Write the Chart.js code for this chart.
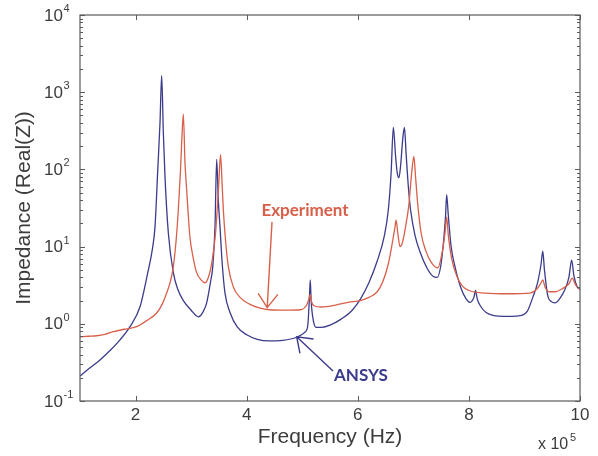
<!DOCTYPE html>
<html>
<head>
<meta charset="utf-8">
<script src="https://cdn.jsdelivr.net/npm/chart.js@4.4.1/dist/chart.umd.min.js"></script>
<style>
  html, body { margin: 0; padding: 0; background: #fff; }
  #wrap { width: 598px; height: 456px; }
</style>
</head>
<body>
<div id="wrap"><canvas id="impedance" width="598" height="456"></canvas></div>
<script>
// frequency in units of 1e5 Hz, impedance Re(Z)
const ansysFreq = [1.00, 1.18, 1.36, 1.54, 1.72, 1.90, 2.08, 2.22, 2.30, 2.35, 2.40, 2.44, 2.47, 2.50, 2.53, 2.59, 2.68, 2.76, 2.86, 3.00,
  3.13, 3.22, 3.28, 3.35, 3.39, 3.43, 3.46, 3.49, 3.52, 3.56, 3.61, 3.70, 3.83, 4.00, 4.19, 4.40, 4.65, 4.90, 5.05, 5.10,
  5.13, 5.145, 5.16, 5.20, 5.25, 5.35, 5.50, 5.70, 5.90, 6.05, 6.20, 6.35, 6.48, 6.55, 6.60, 6.64, 6.68, 6.71, 6.74, 6.77,
  6.81, 6.84, 6.87, 6.91, 6.95, 7.03, 7.13, 7.25, 7.36, 7.43, 7.50, 7.55, 7.58, 7.60, 7.63, 7.68, 7.75, 7.85, 7.95, 8.02,
  8.09, 8.12, 8.15, 8.22, 8.31, 8.45, 8.62, 8.90, 9.05, 9.15, 9.24, 9.30, 9.33, 9.36, 9.42, 9.48, 9.55, 9.65, 9.73, 9.80,
  9.85, 9.89, 9.95, 10.00];
const ansysZ = [0.21, 0.27, 0.34, 0.45, 0.62, 0.92, 1.66, 4.6, 9, 18, 100, 400, 1650, 300, 80, 15, 4.6, 2.8, 2.0, 1.5,
  1.23, 1.45, 1.87, 3.5, 5.5, 18, 135, 40, 18, 6, 2.5, 1.4, 0.91, 0.72, 0.63, 0.60, 0.61, 0.67, 0.78, 0.95,
  2.2, 3.7, 2.0, 1.1, 0.9, 0.9, 0.96, 1.15, 1.5, 2.1, 3.4, 6.5, 14, 30, 90, 350, 150, 90, 78, 110,
  250, 350, 160, 60, 30, 14, 8.2, 5.2, 4.1, 4.0, 6, 13, 25, 47, 25, 10, 5.5, 3.0, 2.1, 1.9,
  2.2, 2.7, 2.1, 1.65, 1.4, 1.28, 1.25, 1.27, 1.45, 2.2, 3.5, 6, 8.7, 5, 2.3, 1.95, 1.87, 2.2, 2.8, 4,
  6.7, 4.2, 3.0, 2.8];

const expFreq = [1.00, 1.15, 1.30, 1.45, 1.60, 1.80, 2.02, 2.20, 2.38, 2.48, 2.56, 2.63, 2.68, 2.73, 2.77, 2.81, 2.83, 2.86, 2.89, 2.91,
  2.95, 2.98, 3.04, 3.10, 3.18, 3.25, 3.32, 3.38, 3.44, 3.47, 3.50, 3.53, 3.56, 3.58, 3.62, 3.67, 3.76, 3.88, 4.05, 4.24,
  4.41, 4.70, 4.97, 5.08, 5.12, 5.145, 5.17, 5.22, 5.34, 5.60, 5.83, 6.05, 6.20, 6.35, 6.45, 6.55, 6.62, 6.67, 6.69, 6.72,
  6.76, 6.80, 6.86, 6.92, 6.97, 7.01, 7.04, 7.08, 7.14, 7.22, 7.32, 7.44, 7.52, 7.57, 7.60, 7.63, 7.69, 7.78, 7.88, 8.00,
  8.30, 8.70, 9.10, 9.22, 9.30, 9.33, 9.37, 9.45, 9.55, 9.70, 9.80, 9.86, 9.92, 10.00];
const expZ = [0.68, 0.69, 0.70, 0.73, 0.79, 0.85, 0.92, 1.1, 1.38, 1.8, 2.5, 3.6, 5.5, 12, 30, 100, 220, 520, 120, 70,
  25, 13, 7, 4.6, 3.7, 3.4, 4.2, 6.7, 15, 30, 70, 155, 60, 30, 12, 5.5, 3.0, 2.2, 1.8, 1.6,
  1.52, 1.5, 1.52, 1.75, 2.1, 2.4, 1.9, 1.7, 1.65, 1.75, 1.9, 2.0, 2.2, 2.6, 3.5, 6, 11, 18, 22, 15,
  10, 11, 18, 35, 90, 147, 80, 35, 15, 9, 6.3, 5.3, 8.5, 15, 24, 14, 7, 4.2, 3.1, 2.7,
  2.5, 2.45, 2.5, 2.8, 3.4, 3.7, 3.0, 2.6, 2.6, 2.9, 3.3, 3.9, 3.2, 2.8];

const xTickValues = [2, 4, 6, 8, 10];
const yDecades = [-1, 0, 1, 2, 3, 4];

const BLUE = '#3b3b8c';
const RED = '#d8604a';
const AXIS = '#5a5a5a';
const LABEL = '#3c3c3c';

function toPoints(xs, ys) {
  return xs.map((x, i) => ({ x: x, y: ys[i] }));
}

// box, inward ticks, log tick labels and the two callouts
const framePlugin = {
  id: 'frame',
  afterDraw(chart) {
    const ctx = chart.ctx;
    const a = chart.chartArea;
    const xs = chart.scales.x;
    const ys = chart.scales.y;
    ctx.save();
    ctx.strokeStyle = AXIS;
    ctx.lineWidth = 1.2;
    ctx.strokeRect(a.left, a.top, a.right - a.left, a.bottom - a.top);

    ctx.lineWidth = 1;
    ctx.beginPath();
    xTickValues.forEach(v => {
      const px = Math.round(xs.getPixelForValue(v)) + 0.5;
      ctx.moveTo(px, a.bottom); ctx.lineTo(px, a.bottom - 5);
      ctx.moveTo(px, a.top); ctx.lineTo(px, a.top + 5);
    });
    yDecades.forEach(d => {
      for (let m = 1; m < 10; m++) {
        if (d === 4 && m > 1) break;
        const py = Math.round(ys.getPixelForValue(m * Math.pow(10, d))) + 0.5;
        const len = m === 1 ? 5 : 3;
        ctx.moveTo(a.left, py); ctx.lineTo(a.left + len, py);
        ctx.moveTo(a.right, py); ctx.lineTo(a.right - len, py);
      }
    });
    ctx.stroke();

    // y labels as 10 with raised exponent
    ctx.fillStyle = LABEL;
    ctx.textBaseline = 'middle';
    yDecades.forEach(d => {
      const py = ys.getPixelForValue(Math.pow(10, d));
      ctx.font = '17px "Liberation Sans", Arial, sans-serif';
      ctx.textAlign = 'right';
      ctx.fillText('10', a.left - 17, py + 1);
      ctx.font = '11px "Liberation Sans", Arial, sans-serif';
      ctx.textAlign = 'left';
      ctx.fillText(d < 0 ? '-' + (-d) : String(d), a.left - 16.5, py - 6);
    });

    // axis multiplier
    ctx.font = '16px "Liberation Sans", Arial, sans-serif';
    ctx.textAlign = 'left';
    ctx.fillText('x 10', a.right - 42, 445);
    ctx.font = '11px "Liberation Sans", Arial, sans-serif';
    ctx.fillText('5', a.right - 10, 438);

    // callouts
    drawCallout(ctx, xs, ys, 'Experiment', RED, 4.37, 1.62, 272, 222, 305, 211, 'center');
    drawCallout(ctx, xs, ys, 'ANSYS', BLUE, 4.90, 0.68, 333, 371, 334, 376, 'left');
    ctx.restore();
  }
};

function drawCallout(ctx, xs, ys, text, color, tipX, tipY, tailPx, tailPy, textX, textY, align) {
  const tx = xs.getPixelForValue(tipX);
  const ty = ys.getPixelForValue(tipY);
  ctx.strokeStyle = color;
  ctx.lineWidth = 1.4;
  ctx.beginPath();
  ctx.moveTo(tailPx, tailPy);
  ctx.lineTo(tx, ty);
  const ang = Math.atan2(ty - tailPy, tx - tailPx);
  const head = 17;
  const spread = 0.62;
  ctx.moveTo(tx - head * Math.cos(ang - spread), ty - head * Math.sin(ang - spread));
  ctx.lineTo(tx, ty);
  ctx.lineTo(tx - head * Math.cos(ang + spread), ty - head * Math.sin(ang + spread));
  ctx.stroke();
  ctx.fillStyle = color;
  ctx.font = 'bold 17px Lato, "Open Sans", sans-serif';
  ctx.textAlign = align;
  ctx.textBaseline = 'middle';
  ctx.fillText(text, textX, textY);
}

new Chart(document.getElementById('impedance'), {
  type: 'line',
  data: {
    datasets: [
      {
        label: 'Experiment',
        data: toPoints(expFreq, expZ),
        borderColor: RED,
        borderWidth: 1.3,
        pointRadius: 0,
        cubicInterpolationMode: 'monotone'
      },
      {
        label: 'ANSYS',
        data: toPoints(ansysFreq, ansysZ),
        borderColor: BLUE,
        borderWidth: 1.3,
        pointRadius: 0,
        cubicInterpolationMode: 'monotone'
      }
    ]
  },
  options: {
    responsive: false,
    animation: false,
    layout: { padding: { top: 15, right: 18, left: 0, bottom: 0 } },
    plugins: {
      legend: { display: false },
      tooltip: { enabled: false }
    },
    scales: {
      x: {
        type: 'linear',
        min: 1,
        max: 10,
        grid: { display: false, drawTicks: false },
        border: { display: false },
        afterBuildTicks: scale => { scale.ticks = xTickValues.map(v => ({ value: v })); },
        afterFit: scale => { scale.height = 55; },
        ticks: {
          color: LABEL,
          padding: 4,
          maxRotation: 0,
          font: { family: '"Liberation Sans", Arial, sans-serif', size: 17 }
        },
        title: {
          display: true,
          text: 'Frequency (Hz)',
          color: LABEL,
          padding: { top: 0, bottom: 6 },
          font: { family: '"Liberation Sans", Arial, sans-serif', size: 21 }
        }
      },
      y: {
        type: 'logarithmic',
        min: 0.1,
        max: 10000,
        grid: { display: false, drawTicks: false },
        border: { display: false },
        ticks: { display: false },
        afterFit: scale => { scale.width = 80; },
        title: {
          display: true,
          text: 'Impedance (Real(Z))',
          color: LABEL,
          padding: { top: 12, bottom: 0 },
          font: { family: '"Liberation Sans", Arial, sans-serif', size: 21 }
        }
      }
    }
  },
  plugins: [framePlugin]
});
</script>
</body>
</html>
